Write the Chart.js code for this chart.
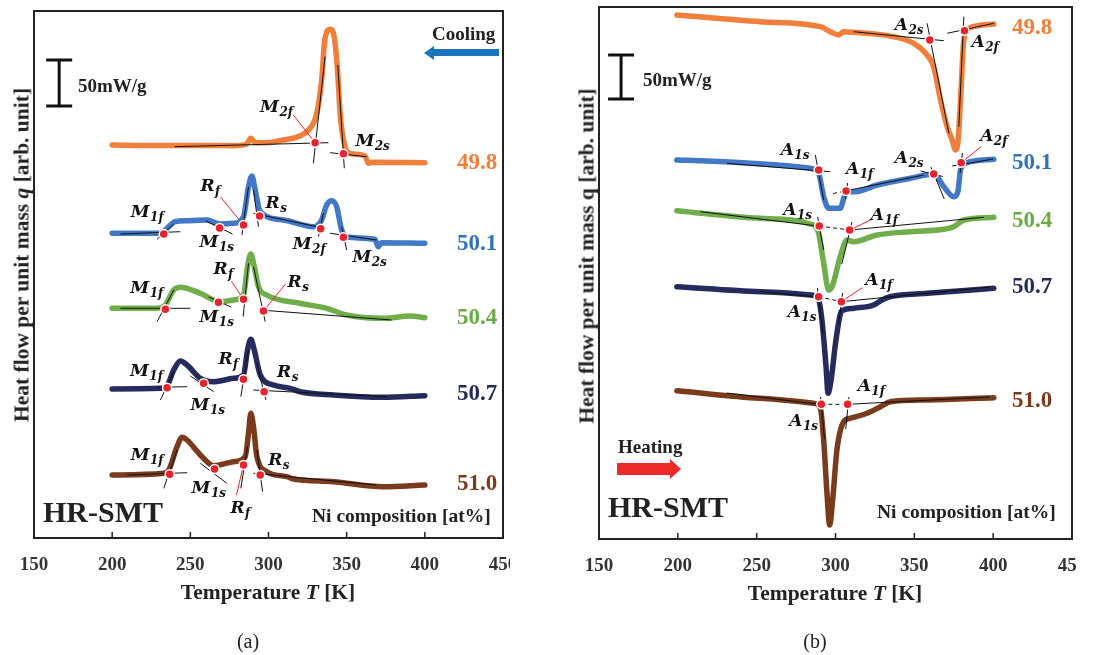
<!DOCTYPE html>
<html>
<head>
<meta charset="utf-8">
<script src="https://cdn.jsdelivr.net/npm/chart.js@4.4.1/dist/chart.umd.min.js"></script>
<style>
    body { margin: 0; background: #fff; }
    #fig { position: relative; width: 1102px; height: 655px; overflow: hidden; font-family: "Liberation Serif", "Times New Roman", serif; color: #222; }
    .wrap { position: absolute; top: 0; height: 590px; overflow: hidden; }
    .wrap canvas { display: block; }
    .t { position: absolute; white-space: nowrap; font-weight: bold; transform: translateY(-50%); }
    .c { transform: translate(-50%, -50%); }
    .yt { position: absolute; white-space: nowrap; font-weight: bold; font-size: 21.5px; transform: translate(-50%, -50%) rotate(-90deg); }
    .arrow-body { position: absolute; }
    .arrow-head { position: absolute; width: 0; height: 0; border-style: solid; }
</style>
</head>
<body>
<div id="fig">
    <div class="wrap" style="left:0;width:510px"><canvas id="chartA" width="530" height="590"></canvas></div>
    <div class="wrap" style="left:565px;width:511px"><canvas id="chartB" width="531" height="590"></canvas></div>

    <!-- panel (a) texts -->
    <div class="yt" style="left:22px;top:255px">Heat flow per unit mass <i>q</i> [arb. unit]</div>
    <div class="t c" style="left:268px;top:592px;font-size:21.5px">Temperature <i>T</i> [K]</div>
    <div class="t c" style="left:248px;top:641px;font-size:20px;font-weight:normal">(a)</div>
    <div class="t" style="left:432px;top:34px;font-size:19px">Cooling</div>
    <div class="arrow-body" style="left:432px;top:49px;width:67px;height:7px;background:#1B75BC"></div>
    <div class="arrow-head" style="left:424px;top:46px;border-width:7px 10px 7px 0;border-color:transparent #1B75BC transparent transparent"></div>
    <div class="t" style="left:78px;top:86px;font-size:19px">50mW/g</div>
    <div class="t" style="left:43px;top:512px;font-size:30px">HR-SMT</div>
    <div class="t" style="left:312px;top:516px;font-size:19.5px">Ni composition [at%]</div>
    <div class="t" style="left:457px;top:162px;font-size:23px;color:#F07F3C">49.8</div>
    <div class="t" style="left:457px;top:243px;font-size:23px;color:#2E72BE">50.1</div>
    <div class="t" style="left:457px;top:317px;font-size:23px;color:#6AAA45">50.4</div>
    <div class="t" style="left:457px;top:393px;font-size:23px;color:#262B5E">50.7</div>
    <div class="t" style="left:457px;top:483px;font-size:23px;color:#7A3A1C">51.0</div>

    <!-- panel (b) texts -->
    <div class="yt" style="left:587px;top:256px">Heat flow per unit mass q [arb. unit]</div>
    <div class="t c" style="left:835px;top:593px;font-size:21.5px">Temperature <i>T</i> [K]</div>
    <div class="t c" style="left:815px;top:641px;font-size:20px;font-weight:normal">(b)</div>
    <div class="t" style="left:643px;top:80px;font-size:19px">50mW/g</div>
    <div class="t" style="left:618px;top:447px;font-size:19px">Heating</div>
    <div class="arrow-body" style="left:617px;top:463px;width:54px;height:12px;background:#EE2A2A"></div>
    <div class="arrow-head" style="left:670px;top:459px;border-width:10.5px 0 10.5px 11px;border-color:transparent transparent transparent #EE2A2A"></div>
    <div class="t" style="left:608px;top:507px;font-size:30px">HR-SMT</div>
    <div class="t" style="left:877px;top:512px;font-size:19.5px">Ni composition [at%]</div>
    <div class="t" style="left:1012px;top:27px;font-size:23px;color:#F07F3C">49.8</div>
    <div class="t" style="left:1012px;top:162px;font-size:23px;color:#2E72BE">50.1</div>
    <div class="t" style="left:1012px;top:220px;font-size:23px;color:#6AAA45">50.4</div>
    <div class="t" style="left:1012px;top:286px;font-size:23px;color:#262B5E">50.7</div>
    <div class="t" style="left:1012px;top:400px;font-size:23px;color:#7A3A1C">51.0</div>
</div>

<script>
// Temperature axis ticks (both panels)
const tempTicks = [150, 200, 250, 300, 350, 400, 450];

// ---------- (a) cooling curves, heat flow in arb. units (offset per composition) ----------
const tA_498 = [200, 230, 260, 277.7, 286, 288.7, 291.5, 298.9, 309.6, 320, 326.6, 330.9, 334, 336, 339.4, 342, 344, 346, 349, 352, 361.7, 364, 366, 400];
const qA_498 = [393, 392.5, 392.5, 392.3, 394, 399.7, 395.3, 395.3, 398, 402, 409.7, 424.7, 458, 498, 508.7, 501.3, 471, 421, 391, 384.7, 382, 374.7, 375.7, 375.3];
const tA_501 = [200, 230.9, 235, 240.4, 247.9, 260.6, 269, 277.7, 284, 287.2, 289.4, 291.5, 294.7, 309.6, 328.7, 334, 337.2, 340.4, 343.6, 346.8, 351, 368, 370.2, 372.3, 400];
const qA_501 = [304.7, 304.7, 309.7, 316.3, 317.3, 318, 314, 314.7, 321.3, 351.3, 362, 348, 326.3, 318, 311.3, 318, 333, 337.3, 331.3, 308, 300.7, 298.7, 291.3, 295.3, 294.7];
const tA_504 = [200, 228.7, 234, 239.4, 243.6, 256.4, 269, 277.7, 284, 286.6, 288.7, 290.9, 293.6, 298.9, 320.2, 337.2, 350, 373.4, 390.4, 400];
const qA_504 = [229.7, 229.7, 233, 248, 250.7, 244.7, 236.3, 238, 243, 271.3, 284, 271.3, 251.3, 243, 234.7, 229.7, 223, 219.7, 222, 220.3];
const tA_507 = [200, 230.9, 235, 239.4, 243.6, 247.9, 256.4, 264.9, 277.7, 284, 286.6, 288.7, 290.9, 294.7, 303.2, 313.8, 320.2, 341.5, 373.4, 400];
const qA_507 = [149, 149.7, 152, 168, 177, 173, 159.7, 156.3, 159.7, 163, 188, 198.7, 188, 163, 153, 149.7, 146.3, 143, 140.7, 142.3];
const tA_510 = [200, 233, 236.2, 241.5, 244.7, 247.9, 256.4, 264.9, 277.7, 285.1, 287.2, 288.7, 290.4, 292.6, 298.9, 311.7, 316, 341.5, 373.4, 400];
const qA_510 = [63, 64.7, 68, 91.3, 100.7, 98, 83, 72.3, 76.3, 81.3, 104.7, 124.7, 111.3, 81.3, 66.3, 61.3, 59, 56.3, 51.3, 53];

// (a) transformation temperatures
const markTA_498 = [329.8, 347.9];
const markQA_498 = [395.3, 384.3];
const markNameA_498 = ['M2f', 'M2s'];
const markTA_501 = [233, 268.7, 284, 294.3, 333.4, 347.9];
const markQA_501 = [304, 310, 313, 322, 309.3, 300.7];
const markNameA_501 = ['M1f', 'M1s', 'Rf', 'Rs', 'M2f', 'M2s'];
const markTA_504 = [234, 268, 284, 296.8];
const markQA_504 = [228.7, 235.7, 238.7, 227];
const markNameA_504 = ['M1f', 'M1s', 'Rf', 'Rs'];
const markTA_507 = [235.1, 258.5, 284, 297.2];
const markQA_507 = [150.3, 154.7, 158.7, 146.3];
const markNameA_507 = ['M1f', 'M1s', 'Rf', 'Rs'];
const markTA_510 = [236.8, 265.5, 284, 294.7];
const markQA_510 = [63.7, 69, 73, 63];
const markNameA_510 = ['M1f', 'M1s', 'Rf', 'Rs'];

// (a) tangent construction lines [T1, q1, T2, q2]
const tangentsA = [
    [240, 391.3, 338.3, 395.3], [328.7, 374.7, 336.2, 481.3], [339.4, 385.3, 362.8, 381.3], [348.5, 369.7, 344.3, 473],
    [205.3, 304, 243.6, 306.3], [228.7, 298.7, 239.4, 314], [260, 317, 277, 304], [283, 303, 287.2, 351.3],
    [293.6, 311.3, 290.4, 348], [290.4, 324.7, 330.9, 311.3], [331.9, 301.3, 335.1, 324.7], [350, 288, 346.8, 311.3], [339.4, 304.7, 369.1, 298],
    [205.3, 229.7, 250, 229.7], [228.7, 216.3, 239.4, 248], [261.7, 241, 276, 231], [283.8, 221.3, 287.2, 274.7],
    [297.9, 216.3, 290.4, 271.3], [294.7, 228, 378.7, 218],
    [228.7, 150.7, 247.9, 151.3], [230.9, 138, 239.4, 166.3], [250, 162, 264.9, 146.3], [282.3, 141.3, 287.2, 188],
    [298.3, 138, 292.6, 174.7], [290.4, 148, 375.5, 141.3],
    [209.6, 63, 247.9, 65.3], [233, 49.7, 241.5, 88], [256.4, 74.7, 273.4, 54.7], [282.3, 49.7, 286.6, 91.3],
    [296.2, 46.3, 292.6, 88], [290.4, 64.7, 369.1, 53]
];

// ---------- (b) heating curves ----------
const tB_498 = [199.4, 252.3, 290.4, 296.7, 302, 305.2, 311.5, 336.9, 349.6, 358.1, 362.3, 366.6, 370.8, 374, 376.1, 377.6, 379.3, 381.4, 384.6, 400.4];
const qB_498 = [524, 517.3, 512.3, 507.3, 504, 507.3, 506.7, 502.3, 495.7, 484, 472.3, 439, 412.3, 399, 389, 395.7, 439, 499, 510.7, 515];
const tB_501 = [199.4, 284, 289.3, 292.5, 295.7, 303, 305.6, 308.4, 312.6, 326.3, 347.5, 362.3, 368.7, 375, 377.6, 379.3, 382.4, 400.4];
const qB_501 = [379, 370.7, 365.7, 342.3, 330.7, 330.7, 342.3, 347.3, 347.3, 354, 360.7, 365, 352.3, 342.3, 347.3, 369, 375.7, 379.7];
const tB_504 = [199.4, 252.3, 286.1, 289.3, 292.5, 295.7, 297.8, 303, 307.3, 311.5, 326.3, 347.5, 368.7, 375, 381.4, 400.4];
const qB_504 = [328.3, 320.7, 314, 305.7, 275.7, 249, 252.3, 282.3, 299, 297.3, 304, 307.3, 309.7, 312.3, 319, 321.7];
const tB_507 = [199.4, 252.3, 284, 289.3, 291.4, 294, 295.3, 297.2, 300, 303.2, 305.2, 311.5, 324.2, 329.5, 334.8, 358.1, 400.4];
const qB_507 = [252.3, 247.3, 244, 239, 219, 172.3, 145.7, 159, 195.7, 225.7, 229, 230.7, 234, 239, 242.3, 245.7, 250.7];
const tB_510 = [199.4, 252.3, 286.1, 290.4, 292.5, 294.6, 296.3, 298.2, 300.9, 305.2, 309.4, 320, 328.5, 334.8, 358.1, 400.4];
const qB_510 = [148.3, 140.7, 135.7, 130.7, 99, 45.7, 14, 39, 89, 117.3, 120.7, 125.7, 132.3, 137.3, 139, 141.3];

// (b) transformation temperatures
const markTB_498 = [359.8, 381.8];
const markQB_498 = [499, 508.3];
const markNameB_498 = ['A2s', 'A2f'];
const markTB_501 = [289.3, 306.7, 362.3, 379.7];
const markQB_501 = [369, 348, 365, 376.3];
const markNameB_501 = ['A1s', 'A1f', 'A2s', 'A2f'];
const markTB_504 = [289.7, 309];
const markQB_504 = [313, 309];
const markNameB_504 = ['A1s', 'A1f'];
const markTB_507 = [289.3, 303.7];
const markQB_507 = [242.3, 237.3];
const markNameB_507 = ['A1s', 'A1f'];
const markTB_510 = [291, 307.7];
const markQB_510 = [134.7, 134.7];
const markNameB_510 = ['A1s', 'A1f'];

const tangentsB = [
    [311.5, 507.3, 368.7, 498.3], [358.1, 515.7, 371.9, 405.7], [381.4, 522.3, 378.2, 412.3], [370.8, 505.7, 400.4, 515.7],
    [231.1, 375.7, 296.7, 367.3], [287.2, 384, 292.5, 339], [307.7, 356, 306.3, 340], [309, 349, 356, 364],
    [354, 368, 368, 362.5], [360.5, 372, 369, 340], [374, 373, 400, 380], [380.5, 386, 379, 366],
    [214.2, 327.3, 292.5, 312.3], [288.7, 322, 292.5, 289], [309, 309, 394.1, 321.7], [310.5, 317, 304, 275],
    [252.3, 247.3, 292, 241.5], [288.5, 251, 292, 205], [303.7, 237.3, 398, 252], [304.5, 246, 302, 215],
    [231, 146, 293, 134], [290.5, 142, 293, 100], [307.7, 134.7, 398, 142], [308.5, 142, 306.5, 110]
];
const dashesB = [[298.5, 345.5, 305, 347.5], [289.7, 313, 309, 309], [289.3, 242.3, 303.7, 237.3], [291, 134.7, 307.7, 134.7]];

// 50 mW/g scale bar
const scaleBarA = { t: 166.1, q: [432, 478] };
const scaleBarB = { t: 164, q: [440, 484] };

const curveColors = ['#F07F3C', '#4178C8', '#6FAE4A', '#262B5E', '#7A3A1C'];
const markerColor = '#E8232B';

// label offsets from each marker [dx, dy(baseline), leaderX, leaderY]
const placeA = [
    [[-55, -31, -22, -28], [12, -8]],
    [[-33, -17], [-20, 19], [-43, -34, -23, -28], [6, -8], [-28, 20], [9, 25]],
    [[-35, -16], [-19, 20], [-30, -25, -12, -18], [24, -24, 22, -27]],
    [[-37, -12], [-13, 27], [-25, -15], [13, -15]],
    [[-39, -14], [-23, 24], [-13, 48, -7, 30], [8, -10]]
];
const placeB = [
    [[-35, -10], [7, 16]],
    [[-38, -15], [0, -17], [-39, -11], [19, -22, 20, -16]],
    [[-36, -11], [21, -10, 21, -10]],
    [[-31, 20], [24, -17, 21, -14]],
    [[-32, 22], [10, -13]]
];

function pts(t, q) {
    return t.map((v, i) => ({ x: v, y: q[i] }));
}

function buildDatasets(curves, tangents, dashes, bar) {
    const ds = [];
    curves.forEach((c, idx) => {
        ds.push({
            label: c.name,
            data: pts(c.t, c.q),
            borderColor: curveColors[idx],
            borderWidth: 5.5,
            borderCapStyle: 'round',
            borderJoinStyle: 'round',
            pointRadius: 0,
            cubicInterpolationMode: 'monotone',
            order: 3
        });
        ds.push({
            label: c.name + ' transitions',
            data: pts(c.mt, c.mq),
            showLine: false,
            pointRadius: 4.5,
            pointBackgroundColor: markerColor,
            pointBorderColor: '#fff',
            pointBorderWidth: 1.5,
            order: 0
        });
    });
    tangents.forEach(s => ds.push({
        data: [{ x: s[0], y: s[1] }, { x: s[2], y: s[3] }],
        borderColor: '#111', borderWidth: 1, pointRadius: 0, order: 1
    }));
    dashes.forEach(s => ds.push({
        data: [{ x: s[0], y: s[1] }, { x: s[2], y: s[3] }],
        borderColor: '#111', borderWidth: 1, borderDash: [4, 3], pointRadius: 0, order: 1
    }));
    ds.push({
        label: '50mW/g',
        data: [{ x: bar.t, y: bar.q[0] }, { x: bar.t, y: bar.q[1] }],
        borderColor: '#111', borderWidth: 3,
        pointStyle: 'line', pointRadius: 13, pointBorderWidth: 3, pointBorderColor: '#111',
        order: 2
    });
    return ds;
}

function drawSubLabel(ctx, x, y, name) {
    const main = name[0], sub = name.slice(1);
    ctx.fillStyle = '#111';
    ctx.textBaseline = 'alphabetic';
    ctx.font = 'italic bold 17px "DejaVu Serif"';
    ctx.fillText(main, x, y);
    const w = ctx.measureText(main).width;
    ctx.font = 'italic bold 12px "DejaVu Serif"';
    ctx.fillText(sub, x + w + 0.5, y + 4);
}

// frame, inward ticks, labels and leader lines
const overlay = {
    id: 'overlay',
    afterDatasetsDraw(chart, args, opts) {
        const { ctx, chartArea: a, scales: { x, y } } = chart;
        ctx.save();
        opts.curves.forEach((c, ci) => {
            c.mt.forEach((t, i) => {
                const p = opts.place[ci][i];
                const px = x.getPixelForValue(t), py = y.getPixelForValue(c.mq[i]);
                if (p.length > 2) {
                    const lx = px + p[2], ly = py + p[3];
                    const d = Math.hypot(lx - px, ly - py);
                    ctx.strokeStyle = markerColor;
                    ctx.lineWidth = 1;
                    ctx.beginPath();
                    ctx.moveTo(lx, ly);
                    ctx.lineTo(px + (lx - px) * 5 / d, py + (ly - py) * 5 / d);
                    ctx.stroke();
                }
                drawSubLabel(ctx, px + p[0], py + p[1], c.names[i]);
            });
        });
        ctx.strokeStyle = '#222';
        ctx.lineWidth = 2;
        ctx.strokeRect(a.left, a.top, a.right - a.left, a.bottom - a.top);
        ctx.lineWidth = 1.5;
        x.ticks.forEach(tk => {
            const p = x.getPixelForValue(tk.value);
            ctx.beginPath();
            ctx.moveTo(p, a.bottom);
            ctx.lineTo(p, a.bottom - 6);
            ctx.stroke();
        });
        ctx.restore();
    }
};

function makeChart(id, curves, tangents, dashes, bar, place, pad, yMax) {
    return new Chart(document.getElementById(id), {
        type: 'line',
        data: { datasets: buildDatasets(curves, tangents, dashes, bar) },
        plugins: [overlay],
        options: {
            responsive: false,
            animation: false,
            layout: { padding: pad, autoPadding: false },
            plugins: {
                legend: { display: false },
                tooltip: { enabled: false },
                overlay: { curves: curves, place: place }
            },
            scales: {
                x: {
                    type: 'linear',
                    min: tempTicks[0],
                    max: tempTicks[tempTicks.length - 1],
                    afterBuildTicks: s => { s.ticks = tempTicks.map(v => ({ value: v })); },
                    afterFit: s => { s.height = 40; },
                    grid: { display: false },
                    border: { display: false },
                    ticks: {
                        padding: 8,
                        color: '#333',
                        font: { family: 'Liberation Serif', size: 19, weight: 'bold' }
                    }
                },
                y: { display: false, min: 0, max: yMax }
            }
        }
    });
}

// nudge the layout padding until the plot box sits where the figure has it
function fitArea(chart, target) {
    for (let k = 0; k < 4; k++) {
        const a = chart.chartArea;
        const p = chart.config.options.layout.padding;
        chart.config.options.layout.padding = {
            left: p.left + (target.left - a.left),
            right: p.right + (a.right - target.right),
            top: p.top + (target.top - a.top),
            bottom: p.bottom + (a.bottom - target.bottom)
        };
        chart.update('none');
    }
}

const curvesA = [
    { name: '49.8', t: tA_498, q: qA_498, mt: markTA_498, mq: markQA_498, names: markNameA_498 },
    { name: '50.1', t: tA_501, q: qA_501, mt: markTA_501, mq: markQA_501, names: markNameA_501 },
    { name: '50.4', t: tA_504, q: qA_504, mt: markTA_504, mq: markQA_504, names: markNameA_504 },
    { name: '50.7', t: tA_507, q: qA_507, mt: markTA_507, mq: markQA_507, names: markNameA_507 },
    { name: '51.0', t: tA_510, q: qA_510, mt: markTA_510, mq: markQA_510, names: markNameA_510 }
];
const curvesB = [
    { name: '49.8', t: tB_498, q: qB_498, mt: markTB_498, mq: markQB_498, names: markNameB_498 },
    { name: '50.1', t: tB_501, q: qB_501, mt: markTB_501, mq: markQB_501, names: markNameB_501 },
    { name: '50.4', t: tB_504, q: qB_504, mt: markTB_504, mq: markQB_504, names: markNameB_504 },
    { name: '50.7', t: tB_507, q: qB_507, mt: markTB_507, mq: markQB_507, names: markNameB_507 },
    { name: '51.0', t: tB_510, q: qB_510, mt: markTB_510, mq: markQB_510, names: markNameB_510 }
];

const chartA = makeChart('chartA', curvesA, tangentsA, [], scaleBarA, placeA, { left: 34, right: 27, top: 11, bottom: 12 }, 527);
const chartB = makeChart('chartB', curvesB, tangentsB, dashesB, scaleBarB, placeB, { left: 34, right: 24, top: 7, bottom: 11 }, 532);
fitArea(chartA, { left: 34, right: 503, top: 11, bottom: 538 });
fitArea(chartB, { left: 34, right: 507, top: 7, bottom: 539 });
</script>
</body>
</html>
